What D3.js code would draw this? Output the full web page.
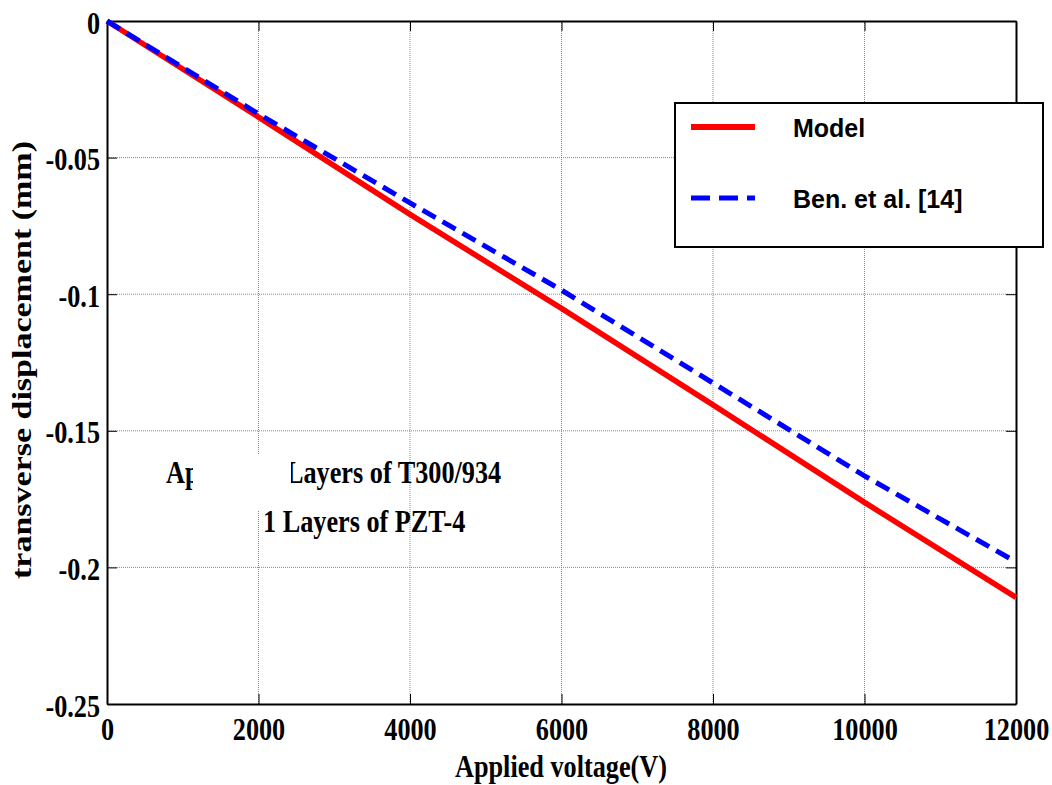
<!DOCTYPE html>
<html lang="en">
<head>
    <meta charset="UTF-8">
    <title>Transverse displacement vs applied voltage</title>
    <script src="https://d3js.org/d3.v7.min.js"></script>
    <style>
        body, html {
            margin: 0;
            padding: 0;
            background: #fff;
            overflow: hidden;
        }
        .serif {
            font-family: "Liberation Serif", "Times New Roman", serif;
            font-weight: bold;
        }
        .sans {
            font-family: "Liberation Sans", Arial, sans-serif;
            font-weight: bold;
        }
    </style>
</head>
<body>
    <svg id="chart" width="1052" height="785"></svg>

    <script>
        // data
        const voltage = [0, 2000, 4000, 6000, 8000, 10000, 12000];
        const modelDisp = [0, -0.0352, -0.0708, -0.1052, -0.1405, -0.1762, -0.211];
        const benDisp = [0, -0.0340, -0.0666, -0.0985, -0.1325, -0.1665, -0.198];
        const xTicks = [0, 2000, 4000, 6000, 8000, 10000, 12000];
        const yTicks = [0, -0.05, -0.1, -0.15, -0.2, -0.25];
        const seriesNames = ["Model", "Ben. et al. [14]"];
        const noteLines = ["Ap", "Layers of T300/934", "1 Layers of PZT-4"];

        const svg = d3.select("#chart");
        const plotL = 107, plotR = 1016, plotT = 21, plotB = 704;
        const squeeze = 0.82; // glyphs in the picture are narrow

        const x = d3.scaleLinear().domain([0, 12000]).range([plotL, plotR]);
        const y = d3.scaleLinear().domain([-0.25, 0]).range([plotB, plotT]);

        // grid
        const grid = svg.append("g")
            .attr("stroke", "#8a8a8a")
            .attr("stroke-width", 1)
            .attr("stroke-dasharray", "1,1");
        grid.selectAll(".gx")
            .data(xTicks.slice(1, -1))
            .enter().append("line")
            .attr("x1", d => x(d)).attr("x2", d => x(d))
            .attr("y1", plotT).attr("y2", plotB);
        grid.selectAll(".gy")
            .data(yTicks.slice(1, -1))
            .enter().append("line")
            .attr("x1", plotL).attr("x2", plotR)
            .attr("y1", d => y(d)).attr("y2", d => y(d));

        // annotation (partly hidden by a white patch, as in the picture)
        const note = svg.append("g").attr("class", "serif").attr("font-size", 32).attr("fill", "#000");
        note.append("text").attr("transform", `translate(166,483) scale(${squeeze},1)`).text(noteLines[0]);
        note.append("text").attr("transform", `translate(286,483) scale(${squeeze},1)`).text(noteLines[1]);
        note.append("text").attr("transform", `translate(263,532) scale(${squeeze},1)`).text(noteLines[2]);
        svg.append("rect")
            .attr("x", 193).attr("y", 455)
            .attr("width", 98).attr("height", 56)
            .attr("fill", "#fff");

        // axes box with inward ticks
        const fmtX = d3.format("d");
        const fmtY = d => d === 0 ? "0" : String(d);

        const xAxis = svg.append("g")
            .attr("transform", `translate(0,${plotB})`)
            .call(d3.axisBottom(x).tickValues(xTicks).tickSizeInner(-10).tickSizeOuter(0).tickFormat(fmtX));
        xAxis.selectAll("text")
            .attr("class", "serif")
            .attr("font-size", 32)
            .attr("fill", "#000")
            .attr("y", 36)
            .attr("dy", 0)
            .attr("transform", `scale(${squeeze},1)`);

        const yAxis = svg.append("g")
            .attr("transform", `translate(${plotL},0)`)
            .call(d3.axisLeft(y).tickValues(yTicks).tickSizeInner(-10).tickSizeOuter(0).tickFormat(fmtY));
        yAxis.selectAll("text")
            .attr("class", "serif")
            .attr("font-size", 32)
            .attr("fill", "#000")
            .attr("x", -8.5)
            .attr("dy", "0.38em")
            .attr("transform", `scale(${squeeze},1)`);

        svg.append("g")
            .attr("transform", `translate(0,${plotT})`)
            .call(d3.axisTop(x).tickValues(xTicks).tickSizeInner(-10).tickSizeOuter(0).tickFormat(""));
        svg.append("g")
            .attr("transform", `translate(${plotR},0)`)
            .call(d3.axisRight(y).tickValues(yTicks).tickSizeInner(-10).tickSizeOuter(0).tickFormat(""));

        svg.selectAll(".domain").attr("stroke", "#000").attr("stroke-width", 2);

        // curves
        const line = d3.line()
            .x((d, i) => x(voltage[i]))
            .y(d => y(d));

        svg.append("path")
            .datum(modelDisp)
            .attr("d", line)
            .attr("fill", "none")
            .attr("stroke", "#ff0000")
            .attr("stroke-width", 5.5);

        svg.append("path")
            .datum(benDisp)
            .attr("d", line)
            .attr("fill", "none")
            .attr("stroke", "#0000ff")
            .attr("stroke-width", 5)
            .attr("stroke-dasharray", "15,8");

        // axis titles
        svg.append("text")
            .attr("class", "serif")
            .attr("font-size", 32)
            .attr("text-anchor", "middle")
            .attr("transform", `translate(561,777) scale(${squeeze},1)`)
            .text("Applied voltage(V)");

        svg.append("text")
            .attr("class", "serif")
            .attr("font-size", 34)
            .attr("text-anchor", "middle")
            .attr("transform", `translate(31,360) rotate(-90) scale(1,${squeeze})`)
            .text("transverse displacement (mm)");

        // legend
        const legend = svg.append("g");
        legend.append("rect")
            .attr("x", 675).attr("y", 103)
            .attr("width", 368).attr("height", 144)
            .attr("fill", "#fff")
            .attr("stroke", "#000")
            .attr("stroke-width", 2);

        const legendRows = [
            { name: seriesNames[0], color: "#ff0000", dash: null, width: 6, ly: 127 },
            { name: seriesNames[1], color: "#0000ff", dash: "19,9", width: 5, ly: 198 }
        ];
        legendRows.forEach(r => {
            legend.append("line")
                .attr("x1", 691).attr("x2", 755)
                .attr("y1", r.ly).attr("y2", r.ly)
                .attr("stroke", r.color)
                .attr("stroke-width", r.width)
                .attr("stroke-dasharray", r.dash);
            legend.append("text")
                .attr("class", "sans")
                .attr("font-size", 25)
                .attr("x", 793)
                .attr("y", r.ly + 10)
                .text(r.name);
        });
    </script>
</body>
</html>
